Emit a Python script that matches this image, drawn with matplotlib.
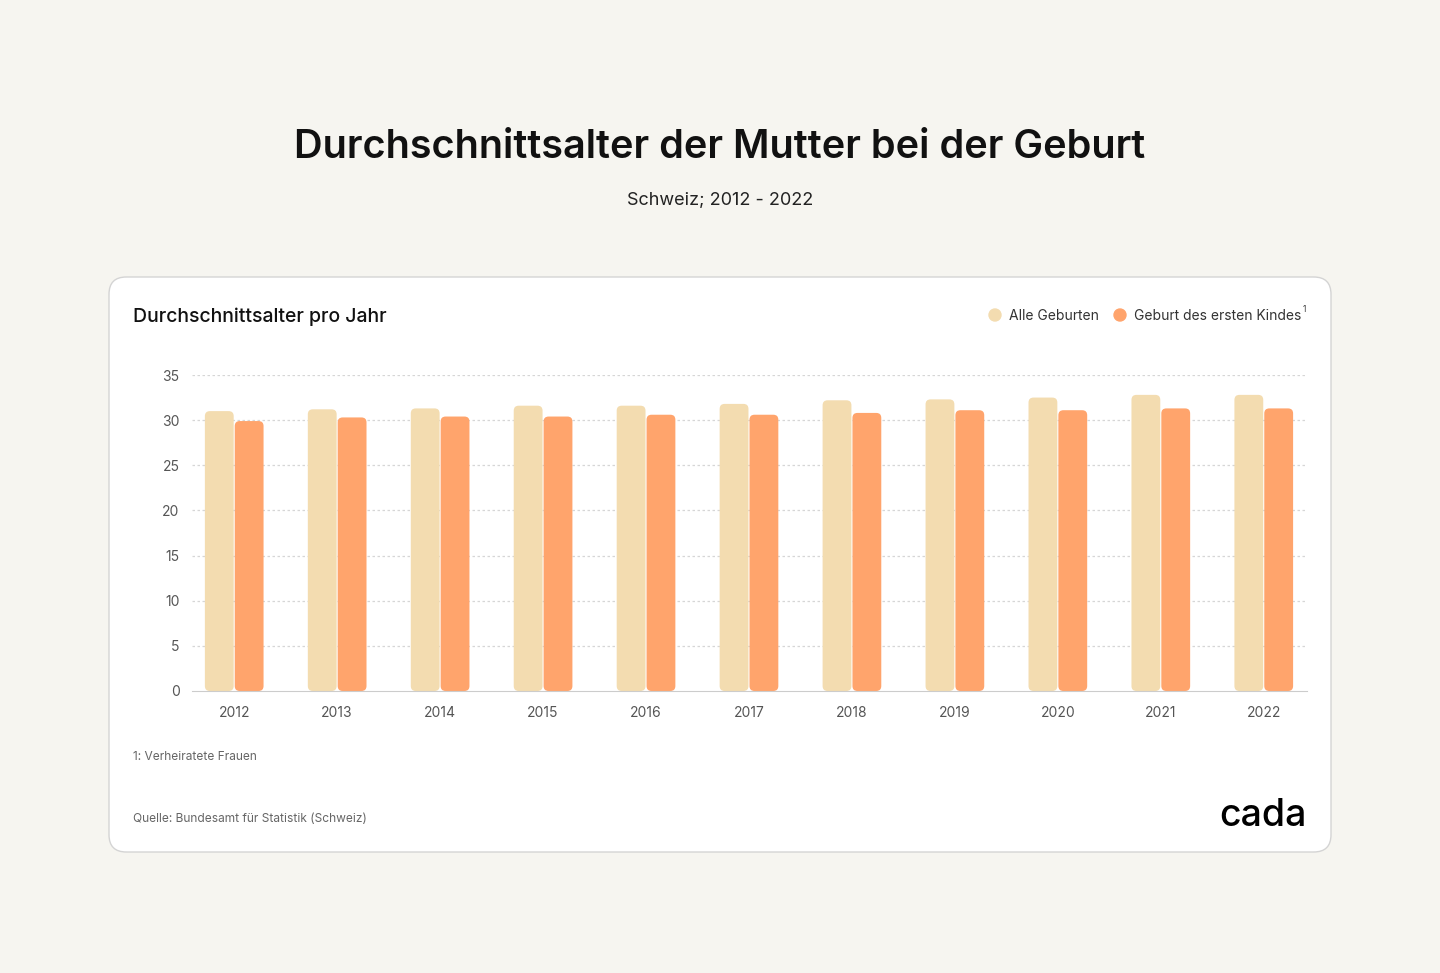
import matplotlib.pyplot as plt
from matplotlib.patches import FancyBboxPatch, Ellipse

plt.rcParams['font.family'] = ['Inter', 'DejaVu Sans']

YEARS = ['2012', '2013', '2014', '2015', '2016', '2017', '2018', '2019', '2020', '2021', '2022']
ALLE = [31.0, 31.2, 31.3, 31.6, 31.6, 31.8, 32.2, 32.3, 32.5, 32.8, 32.8]
ERSTES = [29.9, 30.3, 30.4, 30.4, 30.6, 30.6, 30.8, 31.1, 31.1, 31.3, 31.3]
Y_TICKS = [0, 5, 10, 15, 20, 25, 30, 35]

C_LIGHT = '#F3DCB0'
C_DARK = '#FFA46C'
BG = '#F6F5F0'

W, H = 1440, 973
fig = plt.figure(figsize=(W / 100, H / 100), dpi=100, facecolor=BG)

# card behind everything
card = FancyBboxPatch((109 / W, 1 - 852 / H), (1331 - 109) / W, (852 - 277) / H,
                      boxstyle='round,pad=0,rounding_size=0.012',
                      transform=fig.transFigure, facecolor='white',
                      edgecolor='#D4D4D4', linewidth=1, mutation_aspect=W / H, zorder=-5)
fig.patches.append(card)

fig.text(0.5, 1 - 148 / H, 'Durchschnittsalter der Mutter bei der Geburt',
         ha='center', va='center', fontsize=28.5, fontweight='semibold', color='#111111')
fig.text(0.5, 1 - 200 / H, 'Schweiz; 2012 - 2022', ha='center', va='center',
         fontsize=13, color='#222222')
fig.text(133 / W, 1 - 317 / H, 'Durchschnittsalter pro Jahr', ha='left', va='center',
         fontsize=14, fontweight='medium', color='#111111')

# legend
fig.patches.append(Ellipse((995 / W, 1 - 315 / H), 12 / W, 12 / H,
                           transform=fig.transFigure, color=C_LIGHT))
fig.text(1009 / W, 1 - 316 / H, 'Alle Geburten', ha='left', va='center', fontsize=10,
         color='#333333')
fig.patches.append(Ellipse((1120 / W, 1 - 315 / H), 12 / W, 12 / H,
                           transform=fig.transFigure, color=C_DARK))
fig.text(1134 / W, 1 - 316 / H, 'Geburt des ersten Kindes', ha='left', va='center',
         fontsize=10, color='#333333')
fig.text(1303 / W, 1 - 309 / H, '1', ha='left', va='center', fontsize=6, color='#333333')

# plot area
x0, x1 = 192, 1307
y_top, y_bot = 375, 691
ax = fig.add_axes([x0 / W, 1 - y_bot / H, (x1 - x0) / W, (y_bot - y_top) / H])
ax.set_facecolor('none')

n = len(YEARS)
xs = list(range(n))
bw = 0.28
gap = 0.01
bars1 = ax.bar([x - bw / 2 - gap / 2 for x in xs], ALLE, width=bw, color=C_LIGHT)
bars2 = ax.bar([x + bw / 2 + gap / 2 for x in xs], ERSTES, width=bw, color=C_DARK)

ax.set_xlim(-0.41, n - 1 + 0.42)
ax.set_ylim(0, 35)

# swap rectangles for rounded ones
px_x = (x1 - x0) / (n - 1 + 0.83)
px_y = (y_bot - y_top) / 35
for bars in (bars1, bars2):
    for r in bars:
        r.set_visible(False)
        p = FancyBboxPatch((r.get_x(), r.get_y()), r.get_width(), r.get_height(),
                           boxstyle='round,pad=0,rounding_size=%f' % (5 / px_x),
                           mutation_aspect=px_x / px_y,
                           facecolor=r.get_facecolor(), edgecolor='none', zorder=3)
        ax.add_patch(p)

ax.set_yticks(Y_TICKS)
ax.set_yticklabels([str(t) for t in Y_TICKS])
ax.set_xticks(xs)
ax.set_xticklabels(YEARS)
ax.tick_params(axis='both', length=0, labelsize=10, labelcolor='#555555')
ax.tick_params(axis='y', pad=9)
ax.tick_params(axis='x', pad=11)
for t in Y_TICKS[1:]:
    ax.axhline(t, color='#D6D6D6', linewidth=0.9, linestyle=(0, (2, 2)), zorder=1)
for s in ('top', 'right', 'left'):
    ax.spines[s].set_visible(False)
ax.spines['bottom'].set_color('#CCCCCC')
ax.spines['bottom'].set_zorder(4)

fig.text(133 / W, 1 - 757 / H, '1: Verheiratete Frauen', ha='left', va='center',
         fontsize=8.6, color='#666666')
fig.text(133 / W, 1 - 819 / H, 'Quelle: Bundesamt für Statistik (Schweiz)', ha='left',
         va='center', fontsize=8.6, color='#666666')
fig.text(1307 / W, 1 - 816 / H, 'cada', ha='right', va='center', fontsize=27,
         fontweight='medium', color='#000000')

fig.savefig('out.png', dpi=100, facecolor=BG)
